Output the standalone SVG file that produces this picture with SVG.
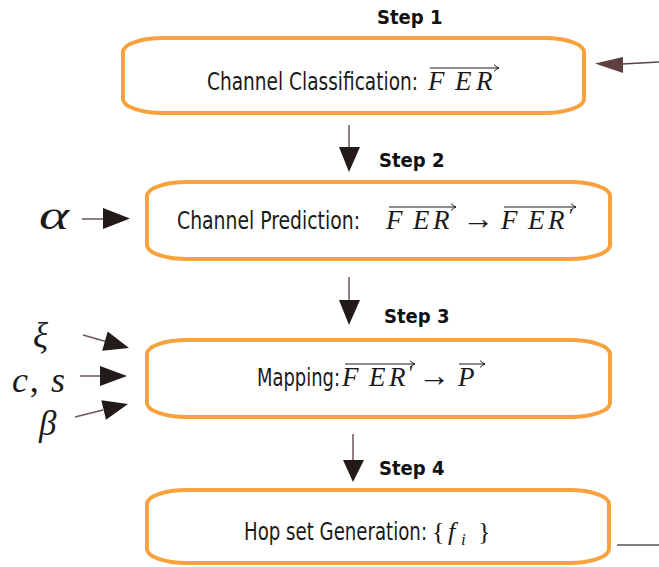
<svg xmlns="http://www.w3.org/2000/svg" width="659" height="567" viewBox="0 0 659 567">
<defs>
<style>
.box{fill:#fff;stroke:#F8A23E;stroke-width:4}
.step{font-family:"DejaVu Sans Condensed","DejaVu Sans",sans-serif;font-weight:bold;font-size:20px;fill:#111}
.lbl{font-family:"DejaVu Sans Condensed","DejaVu Sans",sans-serif;font-size:24px;fill:#1a1a1a}
.m{font-family:"Liberation Serif","DejaVu Serif",serif;font-style:italic;font-size:27px;fill:#1a1a1a}
.mr{font-family:"Liberation Serif","DejaVu Serif",serif;font-size:26px;fill:#1a1a1a}
.vec{fill:none;stroke:#1a1a1a;stroke-width:1}
.ln{stroke:#6b5555;stroke-width:1.5;fill:none}
.hd{fill:#231a1a}
</style>
</defs>
<g id="connectors">
<line class="ln" x1="659" y1="62" x2="622" y2="64" style="stroke:#5e4444"/>
<polygon points="595,63.5 623,57 623,73" fill="#5e3e3e"/>
<line class="ln" x1="349" y1="125" x2="349" y2="148"/>
<polygon class="hd" points="339,147 360,147 349,172"/>
<line class="ln" x1="349" y1="277" x2="349" y2="301"/>
<polygon class="hd" points="339,300 360,300 349,325"/>
<line class="ln" x1="353" y1="434" x2="353" y2="461"/>
<polygon class="hd" points="343,460 364,460 353,482"/>
<line class="ln" x1="82" y1="219" x2="105" y2="219"/>
<polygon class="hd" points="103,208 130,218.5 103,229"/>
<line class="ln" x1="83" y1="335" x2="106" y2="341.5"/>
<polygon class="hd" points="107.7,331.6 129,348 102.2,350.8"/>
<line class="ln" x1="80" y1="376" x2="102" y2="376"/>
<polygon class="hd" points="100,366 127,376 100,386"/>
<line class="ln" x1="75" y1="417" x2="103" y2="410"/>
<polygon class="hd" points="101.3,400.3 128,404 106,419.7"/>
<line x1="617" y1="545" x2="659" y2="545" stroke="#555" stroke-width="1.5"/>
</g>
<g id="inputs">
<text class="m" x="39" y="229" style="font-size:40px" textLength="30" lengthAdjust="spacingAndGlyphs">α</text>
<text class="m" x="33" y="347" style="font-size:35px">ξ</text>
<text class="m" x="12" y="392" style="font-size:36px" textLength="53" lengthAdjust="spacing">c<tspan style="font-style:normal">,</tspan> s</text>
<text class="m" x="39" y="435" style="font-size:35px">β</text>
</g>
<g id="step1">
<text class="step" x="377" y="24">Step 1</text>
<rect class="box" x="123" y="38" width="461" height="75" rx="40" ry="14"/>
<text class="lbl" x="207" y="90" textLength="211" lengthAdjust="spacingAndGlyphs">Channel Classification:</text>
<text class="m" x="428 455 476" y="90">FER</text>
<path class="vec" d="M430,68 H499 M494,64.5 Q496,67 499,68 Q496,69 494,71.5"/>
</g>
<g id="step2">
<text class="step" x="379" y="167">Step 2</text>
<rect class="box" x="147" y="182" width="463" height="77" rx="40" ry="14"/>
<text class="lbl" x="177" y="229" textLength="183" lengthAdjust="spacingAndGlyphs">Channel Prediction:</text>
<text class="m" x="386 413 433" y="229">FER<tspan x="462" style="font-style:normal;font-size:32px">→</tspan><tspan x="501 528 548">FER</tspan><tspan x="569" dy="-6" style="font-style:normal;font-size:20px">′</tspan></text>
<path class="vec" d="M389,207 H456 M451,203.5 Q453,206 456,207 Q453,208 451,210.5"/>
<path class="vec" d="M504,207 H576 M571,203.5 Q573,206 576,207 Q573,208 571,210.5"/>
</g>
<g id="step3">
<text class="step" x="384" y="323">Step 3</text>
<rect class="box" x="147" y="340" width="463" height="77" rx="40" ry="14"/>
<text class="lbl" x="257" y="386" textLength="83" lengthAdjust="spacingAndGlyphs">Mapping:</text>
<text class="m" x="342 369 389" y="386">FER<tspan x="409" dy="-6" style="font-style:normal;font-size:20px">′</tspan><tspan x="418" dy="6" style="font-style:normal;font-size:32px">→</tspan><tspan x="458">P</tspan></text>
<path class="vec" d="M345,364 H415 M410,360.5 Q412,363 415,364 Q412,365 410,367.5"/>
<path class="vec" d="M459,364 H485 M480,360.5 Q482,363 485,364 Q482,365 480,367.5"/>
</g>
<g id="step4">
<text class="step" x="379" y="475">Step 4</text>
<rect class="box" x="147" y="490" width="462" height="73" rx="40" ry="14"/>
<text class="lbl" x="244" y="540" textLength="183" lengthAdjust="spacingAndGlyphs">Hop set Generation:</text>
<text class="mr" x="432" y="540">{<tspan x="448" style="font-style:italic">f</tspan><tspan x="461" dy="5" style="font-style:italic;font-size:17px">i</tspan><tspan x="478" dy="-5">}</tspan></text>
</g>
</svg>
